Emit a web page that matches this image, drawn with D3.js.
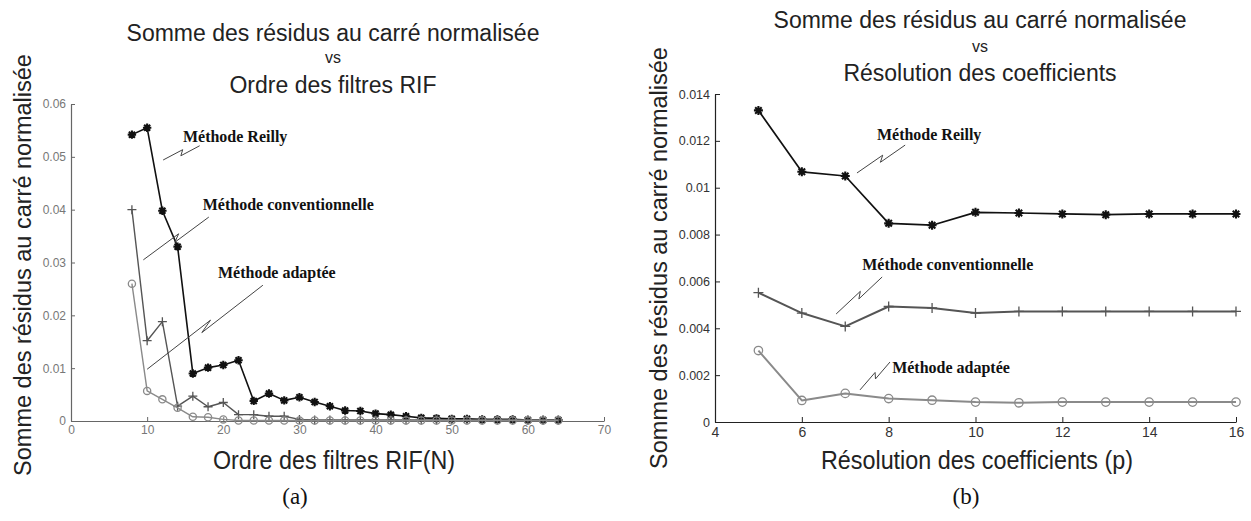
<!DOCTYPE html>
<html>
<head>
<meta charset="utf-8">
<script src="https://cdn.jsdelivr.net/npm/d3@7"></script>
<style>
  html, body { margin: 0; padding: 0; background: #fff; }
  svg { display: block; }
  .tick text { font-family: 'Liberation Sans Narrow', 'Arial Narrow', 'Liberation Sans', Arial, sans-serif; }
</style>
</head>
<body>
<svg id="fig" width="1251" height="521"></svg>
<script>
// ---------- (a) residual sum vs FIR filter order ----------
const filterOrders = [8,10,12,14,16,18,20,22,24,26,28,30,32,34,36,38,40,42,44,46,48,50,52,54,56,58,60,62,64];
const reillyByOrder = [0.0542,0.0555,0.0398,0.0330,0.0090,0.0101,0.0106,0.0115,0.0038,0.0052,0.0039,0.0045,0.0036,0.0028,0.0020,0.0019,0.0014,0.0012,0.0009,0.0006,0.0005,0.0004,0.0004,0.0003,0.0003,0.0003,0.0002,0.0002,0.0002];
const conventionalByOrder = [0.0400,0.0152,0.0188,0.0028,0.0047,0.0027,0.0035,0.0012,0.0012,0.0009,0.0009,0.0003,0.0002,0.0002,0.0002,0.0002,0.0002,0.0002,0.0002,0.0002,0.0002,0.0002,0.0002,0.0002,0.0002,0.0002,0.0002,0.0002,0.0002];
const adaptedByOrder = [0.0260,0.0057,0.0041,0.0025,0.0008,0.0007,0.0003,0.0001,0.0001,0.0001,0.0001,0.0001,0.0001,0.0001,0.0001,0.0001,0.0001,0.0001,0.0001,0.0001,0.0001,0.0001,0.0001,0.0001,0.0001,0.0001,0.0001,0.0001,0.0001];
const orderTicks = [0,10,20,30,40,50,60,70];
const orderResidualTicks = [0,0.01,0.02,0.03,0.04,0.05,0.06];

// ---------- (b) residual sum vs coefficient resolution ----------
const resolutions = [5,6,7,8,9,10,11,12,13,14,15,16];
const reillyByRes = [0.01330,0.01068,0.01050,0.00848,0.00840,0.00895,0.00892,0.00888,0.00885,0.00888,0.00888,0.00888];
const conventionalByRes = [0.00552,0.00465,0.00408,0.00493,0.00487,0.00465,0.00472,0.00472,0.00472,0.00472,0.00472,0.00472];
const adaptedByRes = [0.00305,0.00092,0.00122,0.00100,0.00093,0.00085,0.00082,0.00085,0.00085,0.00085,0.00085,0.00085];
const resTicks = [4,6,8,10,12,14,16];
const resResidualTicks = [0,0.002,0.004,0.006,0.008,0.01,0.012,0.014];

const titleTop = "Somme des résidus au carré normalisée";
const yLabel = "Somme des résidus au carré normalisée";
const methodNames = ["Méthode Reilly", "Méthode conventionnelle", "Méthode adaptée"];

const svg = d3.select("#fig");
const sans = "'Liberation Sans', Arial, Helvetica, sans-serif";
const serif = "'Liberation Serif', 'Times New Roman', serif";

// asterisk and plus marker paths
function starPath(s) {
  const a = s * 0.72;
  return `M0,${-s}L0,${s}M${-s},0L${s},0M${-a},${-a}L${a},${a}M${-a},${a}L${a},${-a}`;
}
function plusPath(s) { return `M0,${-s}L0,${s}M${-s},0L${s},0`; }

// pointer line with a small zig-zag break in the middle
function zigzag(A, B, h) {
  const dx = B[0]-A[0], dy = B[1]-A[1];
  const len = Math.hypot(dx, dy);
  const nx = -dy/len, ny = dx/len;
  const lerp = t => [A[0]+dx*t, A[1]+dy*t];
  const p1 = lerp(0.56), p2 = lerp(0.46);
  return [A, [p1[0]-nx*h, p1[1]-ny*h], [p2[0]+nx*h, p2[1]+ny*h], B];
}

function drawPanel(cfg) {
  const g = svg.append("g");
  const x = d3.scaleLinear().domain(cfg.xDomain).range(cfg.xRange);
  const y = d3.scaleLinear().domain(cfg.yDomain).range(cfg.yRange);

  // axes, ticks pointing into the plot
  const fmt = d => String(+d.toFixed(cfg.decimals));
  const xa = g.append("g").attr("transform", `translate(0,${cfg.yRange[0]})`)
    .call(d3.axisBottom(x).tickValues(cfg.xTicks).tickFormat(fmt).tickSizeInner(-cfg.tickLen).tickSizeOuter(0).tickPadding(cfg.xPad));
  const ya = g.append("g").attr("transform", `translate(${cfg.xRange[0]},0)`)
    .call(d3.axisLeft(y).tickValues(cfg.yTicks).tickFormat(fmt).tickSizeInner(-cfg.tickLen).tickSizeOuter(0).tickPadding(cfg.yPad));
  [xa, ya].forEach(a => {
    a.select(".domain").attr("stroke", cfg.axisColor).attr("stroke-width", 1.2);
    a.selectAll(".tick line").attr("stroke", cfg.axisColor);
    a.selectAll(".tick text").attr("fill", cfg.tickColor);
  });
  xa.selectAll(".tick text").attr("font-size", cfg.xTickSize);
  ya.selectAll(".tick text").attr("font-size", cfg.yTickSize);

  // series
  cfg.series.forEach(s => {
    const pts = cfg.xs.map((v, i) => [x(v), y(s.values[i])]);
    g.append("path").attr("d", d3.line()(pts)).attr("fill", "none")
      .attr("stroke", s.color).attr("stroke-width", s.width).attr("stroke-linejoin", "round");
    const m = g.append("g");
    pts.forEach(p => {
      if (s.marker === "circle") {
        m.append("circle").attr("cx", p[0]).attr("cy", p[1]).attr("r", s.size)
          .attr("fill", "none").attr("stroke", s.color).attr("stroke-width", 1.3);
      } else {
        m.append("path").attr("transform", `translate(${p[0]},${p[1]})`)
          .attr("d", s.marker === "star" ? starPath(s.size) : plusPath(s.size))
          .attr("fill", "none").attr("stroke", s.color).attr("stroke-width", s.marker === "star" ? 2.1 : 1.3);
      }
    });
  });

  // method annotations with pointer lines
  cfg.notes.forEach(n => {
    const A = [x(n.from[0]), y(n.from[1])], B = [x(n.to[0]), y(n.to[1])];
    g.append("path").attr("d", d3.line()(zigzag(A, B, 2.5))).attr("fill", "none")
      .attr("stroke", "#444").attr("stroke-width", 1);
    g.append("text").attr("x", x(n.at[0])).attr("y", y(n.at[1]))
      .attr("font-family", serif).attr("font-weight", "bold").attr("font-size", 16)
      .attr("fill", "#111").text(n.text);
  });

  // titles
  const t = cfg.title;
  g.append("text").attr("x", t.cx).attr("y", t.y1).attr("text-anchor", "middle")
    .attr("font-family", sans).attr("font-size", t.size).attr("fill", "#222").text(titleTop);
  g.append("text").attr("x", t.cx).attr("y", t.y2).attr("text-anchor", "middle")
    .attr("font-family", sans).attr("font-size", 16).attr("fill", "#222").text("vs");
  g.append("text").attr("x", t.cx).attr("y", t.y3).attr("text-anchor", "middle")
    .attr("font-family", sans).attr("font-size", t.size).attr("fill", "#222").text(t.line3);

  // axis labels (condensed)
  g.append("text").attr("x", cfg.xLabel.cx).attr("y", cfg.xLabel.y).attr("text-anchor", "middle")
    .attr("font-family", sans).attr("font-size", 26).attr("fill", "#222")
    .attr("textLength", cfg.xLabel.w).attr("lengthAdjust", "spacingAndGlyphs").text(cfg.xLabel.text);
  g.append("text").attr("transform", `translate(${cfg.yLabel.x},${cfg.yLabel.cy}) rotate(-90)`)
    .attr("text-anchor", "middle").attr("font-family", sans).attr("font-size", 23.5).attr("fill", "#222")
    .text(yLabel);

  // panel letter
  g.append("text").attr("x", cfg.letter.x).attr("y", 504).attr("text-anchor", "middle")
    .attr("font-family", serif).attr("font-size", 23).attr("fill", "#111").text(cfg.letter.text);
}

drawPanel({
  xDomain: [0, 70], xRange: [71, 604],
  yDomain: [0, 0.06], yRange: [421, 104],
  xTicks: orderTicks, yTicks: orderResidualTicks, decimals: 2,
  tickLen: 4, xPad: 4, yPad: 5, xTickSize: 12, yTickSize: 12,
  axisColor: "#666", tickColor: "#777",
  xs: filterOrders,
  series: [
    { values: reillyByOrder, color: "#111", width: 1.6, marker: "star", size: 4.2 },
    { values: conventionalByOrder, color: "#555", width: 1.4, marker: "plus", size: 4.5 },
    { values: adaptedByOrder, color: "#8a8a8a", width: 1.4, marker: "circle", size: 3.6 }
  ],
  notes: [
    { text: methodNames[0], at: [14.7, 0.0528], from: [12.1, 0.0494], to: [16.9, 0.0521] },
    { text: methodNames[1], at: [17.3, 0.0399], from: [9.5, 0.0305], to: [18.1, 0.0386] },
    { text: methodNames[2], at: [19.3, 0.0271], from: [10.0, 0.0098], to: [25.2, 0.0257] }
  ],
  title: { cx: 333, y1: 41, y2: 63, y3: 93, size: 23, line3: "Ordre des filtres RIF" },
  xLabel: { cx: 334, y: 469, w: 242, text: "Ordre des filtres RIF(N)" },
  yLabel: { x: 31, cy: 265 },
  letter: { x: 295, text: "(a)" }
});

drawPanel({
  xDomain: [4, 16], xRange: [715, 1236],
  yDomain: [0, 0.014], yRange: [422, 94],
  xTicks: resTicks, yTicks: resResidualTicks, decimals: 3,
  tickLen: 5, xPad: 5, yPad: 5, xTickSize: 14, yTickSize: 12.5,
  axisColor: "#222", tickColor: "#333",
  xs: resolutions,
  series: [
    { values: reillyByRes, color: "#111", width: 1.7, marker: "star", size: 4.5 },
    { values: conventionalByRes, color: "#555", width: 2, marker: "plus", size: 5 },
    { values: adaptedByRes, color: "#8a8a8a", width: 2, marker: "circle", size: 4.2 }
  ],
  notes: [
    { text: methodNames[0], at: [7.73, 0.01204], from: [7.27, 0.01063], to: [8.38, 0.01182] },
    { text: methodNames[1], at: [7.39, 0.00649], from: [6.79, 0.00461], to: [7.85, 0.00619] },
    { text: methodNames[2], at: [8.08, 0.00209], from: [7.34, 0.00137], to: [8.03, 0.00256] }
  ],
  title: { cx: 980, y1: 28, y2: 52, y3: 81, size: 23, line3: "Résolution des coefficients" },
  xLabel: { cx: 977, y: 469, w: 312, text: "Résolution des coefficients (p)" },
  yLabel: { x: 667, cy: 258 },
  letter: { x: 966, text: "(b)" }
});
</script>
</body>
</html>
